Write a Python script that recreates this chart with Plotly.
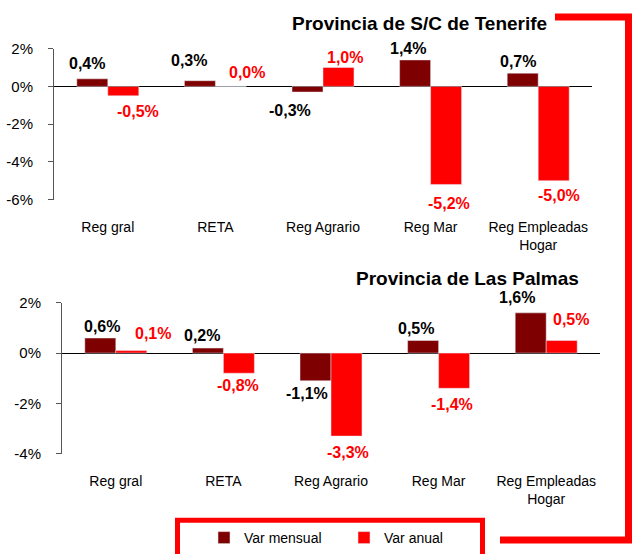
import plotly.graph_objects as go

# ---------------- data ----------------
categories = ["Reg gral", "RETA", "Reg Agrario", "Reg Mar", "Reg Empleadas<br>Hogar"]
series_names = ["Var mensual", "Var anual"]

tenerife_mensual = [0.4, 0.3, -0.3, 1.4, 0.7]
tenerife_anual = [-0.5, 0.0, 1.0, -5.2, -5.0]

palmas_mensual = [0.6, 0.2, -1.1, 0.5, 1.6]
palmas_anual = [0.1, -0.8, -3.3, -1.4, 0.5]

top_title = "Provincia de S/C de Tenerife"
bottom_title = "Provincia de Las Palmas"

top_ytick_vals = [-6, -4, -2, 0, 2]
top_ytick_text = ["-6%", "-4%", "-2%", "0%", "2%"]
bottom_ytick_vals = [-4, -2, 0, 2]
bottom_ytick_text = ["-4%", "-2%", "0%", "2%"]

# label pixel offsets (placement only)
top_mensual_dx = [-21, -26, -33, -23, -20]
top_mensual_dy = [15, 20, -18, 11, 12]
top_anual_dx = [30, 32, 22, 18, 21]
top_anual_dy = [-16, 14, 10, -19, -15]
bot_mensual_dx = [-14, -21, -24, -23, -29]
bot_mensual_dy = [12, 13, -13, 12, 15]
bot_anual_dx = [37, 15, 17, 13, 25]
bot_anual_dy = [17, -12, -16, -16, 21]

# ---------------- style ----------------
W, H = 632, 554
DARK = "#7F0000"
RED = "#FF0000"
FONT = "Liberation Sans, Arial, sans-serif"


def px(x):
    return x / W


def py(y):
    return 1 - y / H


def fmt(v):
    return f"{v:.1f}".replace(".", ",") + "%"


top_xdom = [px(54), px(592)]
top_ydom = [py(201), py(49)]
top_range = [-6, 2]
bot_xdom = [px(62), px(600)]
bot_ydom = [py(457), py(305)]
bot_range = [-4, 2]


def zero_pos(dom, rng):
    return dom[0] + (0 - rng[0]) / (rng[1] - rng[0]) * (dom[1] - dom[0])


fig = go.Figure()

fig.add_trace(go.Bar(x=categories, y=tenerife_mensual, name=series_names[0], marker_color=DARK,
                     xaxis="x", yaxis="y", legend="legend", hoverinfo="skip"))
fig.add_trace(go.Bar(x=categories, y=tenerife_anual, name=series_names[1], marker_color=RED,
                     xaxis="x", yaxis="y", legend="legend2", hoverinfo="skip"))
fig.add_trace(go.Bar(x=categories, y=palmas_mensual, name=series_names[0], marker_color=DARK,
                     xaxis="x2", yaxis="y2", showlegend=False, hoverinfo="skip"))
fig.add_trace(go.Bar(x=categories, y=palmas_anual, name=series_names[1], marker_color=RED,
                     xaxis="x2", yaxis="y2", showlegend=False, hoverinfo="skip"))

annotations = []


def add_labels(values, dxs, dys, color, xref, yref):
    for c, v, dx, dy in zip(categories, values, dxs, dys):
        annotations.append(dict(
            x=c, y=v, xref=xref, yref=yref, text=fmt(v), showarrow=False,
            xshift=dx, yshift=dy, xanchor="center", yanchor="middle",
            font=dict(family=FONT, size=16, color=color, weight="bold")))


add_labels(tenerife_mensual, top_mensual_dx, top_mensual_dy, "#000000", "x", "y")
add_labels(tenerife_anual, top_anual_dx, top_anual_dy, RED, "x", "y")
add_labels(palmas_mensual, bot_mensual_dx, bot_mensual_dy, "#000000", "x2", "y2")
add_labels(palmas_anual, bot_anual_dx, bot_anual_dy, RED, "x2", "y2")

annotations.append(dict(x=px(419.5), y=py(24), xref="paper", yref="paper", text=f"<b>{top_title}</b>",
                        showarrow=False, xanchor="center", yanchor="middle",
                        font=dict(family=FONT, size=19, color="#000000")))
annotations.append(dict(x=px(468), y=py(281), xref="paper", yref="paper", text=f"<b>{bottom_title}</b>",
                        showarrow=False, xanchor="center", yanchor="middle",
                        font=dict(family=FONT, size=19, color="#000000")))

shapes = [
    # decorative red frame on the right
    dict(type="path", xref="paper", yref="paper",
         path=f"M {px(555)} {py(17)} L {px(628.5)} {py(17)} L {px(628.5)} {py(544)} L {px(500)} {py(544)}",
         line=dict(color=RED, width=7)),
    # legend box
    dict(type="rect", xref="paper", yref="paper",
         x0=px(177.5), x1=px(482.5), y0=py(524), y1=py(580),
         line=dict(color=RED, width=5)),
]

cat_axis = dict(type="category", categoryorder="array", categoryarray=categories,
                showline=False, showgrid=False, zeroline=False, ticks="",
                tickfont=dict(family=FONT, size=14, color="#000000"),
                ticklabelstandoff=17, automargin=False, fixedrange=True)

tick_axis = dict(type="category", categoryorder="array", categoryarray=categories,
                 range=[-0.5, 4.5], anchor="free", showline=False, showgrid=False, zeroline=False,
                 ticks="outside", ticklen=4, tickcolor="#000000", tickwidth=1,
                 tickson="boundaries", showticklabels=False, automargin=False, fixedrange=True)

val_axis = dict(showline=True, linecolor="#555555", linewidth=1, ticks="outside", ticklen=5,
                tickcolor="#555555", showgrid=False, zeroline=True, zerolinecolor="#000000",
                zerolinewidth=1, tickfont=dict(family=FONT, size=15, color="#000000"),
                ticklabelstandoff=12, automargin=False, fixedrange=True)

fig.update_layout(
    width=W, height=H,
    margin=dict(l=0, r=0, t=0, b=0, pad=0),
    paper_bgcolor="white", plot_bgcolor="white",
    barmode="group", bargap=0.424, bargroupgap=0,
    font=dict(family=FONT, color="#000000"),
    xaxis=dict(cat_axis, domain=top_xdom, anchor="y"),
    yaxis=dict(val_axis, domain=top_ydom, range=top_range, anchor="x",
               tickvals=top_ytick_vals, ticktext=top_ytick_text),
    xaxis2=dict(cat_axis, domain=bot_xdom, anchor="y2"),
    yaxis2=dict(val_axis, domain=bot_ydom, range=bot_range, anchor="x2",
                tickvals=bottom_ytick_vals, ticktext=bottom_ytick_text),
    xaxis3=dict(tick_axis, domain=top_xdom, overlaying="x",
                position=zero_pos(top_ydom, top_range)),
    xaxis4=dict(tick_axis, domain=bot_xdom, overlaying="x2",
                position=zero_pos(bot_ydom, bot_range)),
    legend=dict(orientation="h", x=px(204), xanchor="left", y=py(542), yanchor="middle",
                font=dict(family=FONT, size=14, color="#000000"), bgcolor="rgba(0,0,0,0)",
                borderwidth=0, itemwidth=30),
    legend2=dict(orientation="h", x=px(344), xanchor="left", y=py(542), yanchor="middle",
                 font=dict(family=FONT, size=14, color="#000000"), bgcolor="rgba(0,0,0,0)",
                 borderwidth=0, itemwidth=30),
    annotations=annotations,
    shapes=shapes,
    showlegend=True,
)

fig.write_html("out.html", config={"displayModeBar": False},
               post_script="document.body.style.margin='0';document.body.style.overflow='hidden';")
